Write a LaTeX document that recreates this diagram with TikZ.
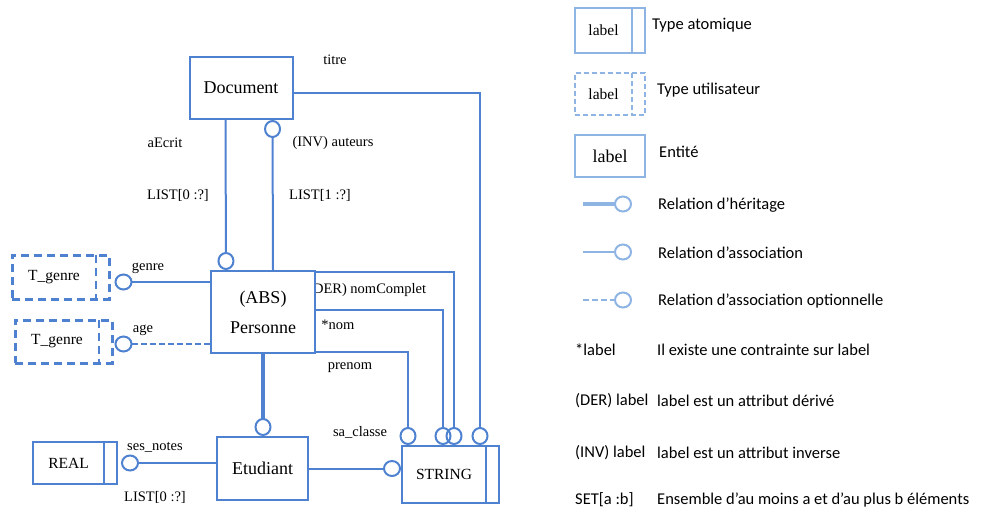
\documentclass[tikz,border=0pt]{standalone}
\usepackage{fontspec}
\setmainfont{Liberation Serif}
\newfontfamily\legendfont{Carlito}
\usepackage{tikz}
\usetikzlibrary{arrows.meta,calc}
\definecolor{umlblue}{RGB}{78,130,208}
\definecolor{keyblue}{RGB}{141,180,226}
\tikzset{basic/.style={draw=umlblue,line width=2pt,fill=none,
                       text badly centered,inner sep=0pt}}
\tikzset{entity/.style={basic,rectangle,font=\fontsize{18}{30}\selectfont}}
\tikzset{atomic/.style={basic,rectangle,font=\fontsize{15.5}{17}\selectfont,
                        execute at end node={\hspace*{13pt}},
                        path picture={\draw[line width=2pt]
                          ([xshift=-13pt]path picture bounding box.north east) --
                          ([xshift=-13pt]path picture bounding box.south east);}}}
\tikzset{usertype/.style={atomic,dashed,dash pattern=on 8pt off 5pt,line width=3pt}}
\tikzset{attr/.style={font=\fontsize{14.5}{16}\selectfont,inner sep=0pt}}
\tikzset{keytext/.style={font=\legendfont\fontsize{16.5}{18}\selectfont,
                         anchor=west,inner sep=0pt}}
\tikzset{endc/.tip={Circle[open,length=18pt,width=17pt]}}
\tikzset{assoc/.style={umlblue,line width=2pt,-{endc}}}
\tikzset{option/.style={assoc,dash pattern=on 6pt off 3pt}}
\tikzset{inherit/.style={umlblue,line width=4pt,-{Circle[open,length=18pt,width=17pt,line width=2pt]}}}
\begin{document}
\begin{tikzpicture}[x=1pt,y=-1pt]
    \useasboundingbox (0,0) rectangle (983,516);
    % Draw labels that sit under the boxes
    \node[attr,anchor=west] (lnomc) at (308,290) {(DER) nomComplet};
    % Draw entities
    \node[entity,minimum width=103pt,minimum height=62pt] (doc) at (241,88) {Document};
    \node[entity,fill=white,minimum width=104pt,minimum height=82pt,align=center]
         (pers) at (263,312) {(ABS)\\Personne};
    \node[entity,minimum width=91pt,minimum height=63pt] (etu) at (262.5,468.5) {Etudiant};
    % Draw atomic and user types
    \node[atomic,minimum width=97pt,minimum height=57pt] (str) at (450.5,474.5) {STRING};
    \node[atomic,minimum width=84pt,minimum height=42pt] (real) at (75,463) {REAL};
    \node[usertype,minimum width=97pt,minimum height=44pt] (tg1) at (60.5,277) {T\_genre};
    \node[usertype,minimum width=97pt,minimum height=43pt] (tg2) at (63.5,341.5) {T\_genre};
    % Relations from Document
    \draw[assoc] ([yshift=-5pt]doc.east) -| ($(str.north west)+(79,0)$);
    \draw[assoc] ($(doc.south west)+(37,0)$) -- ($(pers.north west)+(16,0)$);
    \draw[assoc] ($(pers.north west)+(63,0)$) -- ($(doc.south west)+(84,0)$);
    % Relations from Personne
    \coordinate (pg) at ([yshift=30pt]pers.west);
    \coordinate (pa) at ([yshift=-32pt]pers.west);
    \draw[assoc,shorten >=4pt] (pg) -- (pg -| tg1.east);
    \draw[option,shorten >=1pt] (pa) -- (pa -| tg2.east);
    \draw[assoc] ([yshift=-2pt]pers.north east) -| ($(str.north west)+(53,0)$);
    \draw[assoc] ([yshift=-40pt]pers.north east) -| ($(str.north west)+(42,0)$);
    \draw[assoc] ([yshift=2pt]pers.south east) -| ($(str.north west)+(7,0)$);
    \draw[inherit] (pers.south) -- (pers.south |- etu.north);
    % Relations from Etudiant
    \draw[assoc] (etu.east) -- (etu.east -| str.west);
    \draw[assoc,shorten >=3pt] (real.east -| etu.west) -- (real.east);
    % Labels
    \node[attr] (ltitre) at (335,60) {titre};
    \node[attr] (lecrit) at (165,143) {aEcrit};
    \node[attr] (lecritc) at (178,195) {LIST[0 :?]};
    \node[attr] (laut) at (333,143) {(INV) auteurs};
    \node[attr] (lautc) at (320,195) {LIST[1 :?]};
    \node[attr] (lgenre) at (148,268) {genre};
    \node[attr] (lage) at (143,330) {age};
    \node[attr] (lnom) at (338,325) {*nom};
    \node[attr] (lpre) at (350,368) {prenom};
    \node[attr] (lcla) at (360,432) {sa\_classe};
    \node[attr] (lnot) at (155,447) {ses\_notes};
    \node[attr] (lnotc) at (155,497) {LIST[0 :?]};
    % Legend boxes
    \node[atomic,draw=keyblue,minimum width=70pt,minimum height=45pt,
          font=\fontsize{15.5}{17}\selectfont] (katom) at (610,30.5) {label};
    \node[usertype,draw=keyblue,line width=2pt,dash pattern=on 5pt off 3pt,
          minimum width=70pt,minimum height=42pt] (kuser) at (610,94) {label};
    \node[entity,draw=keyblue,minimum width=70pt,minimum height=42pt] (kent) at (610,156) {label};
    \node[keytext] (tatom) at (652,25) {Type atomique};
    \node[keytext] (tuser) at (657,90) {Type utilisateur};
    \node[keytext] (tent) at (659,152) {Entité};
    % Legend relations
    \foreach \y/\kind/\txt [count=\ki] in {204/inherit/Relation d’héritage,
                 252/assoc/Relation d’association,
                 300/option/Relation d’association optionnelle}{%
          \coordinate (ka\ki) at (583,\y);
          \coordinate (kb\ki) at (632,\y);
          \draw[\kind,keyblue] (ka\ki) -- (kb\ki);
          \node[keytext] (trel\ki) at (658,\y+1) {\txt};
        }
    % Legend notations
    \foreach \y/\sym/\txt [count=\ki] in {350/*label/Il existe une contrainte sur label,
                 401/(DER) label/label est un attribut dérivé,
                 453/(INV) label/label est un attribut inverse,
                 500/SET[a :b]/Ensemble d’au moins a et d’au plus b éléments}{%
          \node[keytext] (ksym\ki) at (575,\y) {\sym};
          \node[keytext] (ktxt\ki) at (657,\y) {\txt};
        }
\end{tikzpicture}
\end{document}
